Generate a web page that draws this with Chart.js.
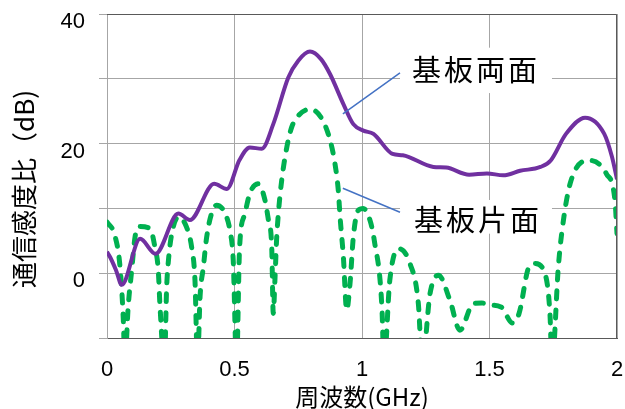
<!DOCTYPE html>
<html>
<head>
<meta charset="utf-8">
<script src="https://cdn.jsdelivr.net/npm/chart.js@4/dist/chart.umd.min.js"></script>
<style>
  html, body { margin: 0; padding: 0; background: #fff; overflow: hidden; }
  #wrap { width: 625px; height: 409px; }
  canvas { display: block; }
</style>
</head>
<body>
<div id="wrap"><canvas id="myChart"></canvas></div>
<script>
// frequency (GHz) / sensitivity ratio (dB)
const bothFreq = [0, 0.012, 0.035, 0.058, 0.13, 0.19, 0.28, 0.325, 0.42, 0.47, 0.52, 0.56, 0.607, 0.652, 0.711, 0.75, 0.796, 0.84, 0.875, 0.927, 0.966, 1.005, 1.045, 1.12, 1.16, 1.28, 1.33, 1.42, 1.49, 1.554, 1.62, 1.70, 1.74, 1.80, 1.875, 1.95, 1.98, 2.0];
const bothGain = [3.3, 2.5, 0.5, -1.8, 5.3, 3.0, 9.2, 8.2, 13.8, 13.0, 17.5, 19.4, 19.2, 23.0, 30.2, 32.8, 34.2, 33.0, 30.7, 26.1, 23.0, 22.0, 21.5, 18.4, 18.2, 16.4, 16.3, 15.2, 15.4, 15.1, 15.8, 16.4, 17.4, 21.5, 24.0, 21.5, 18.0, 14.5];

const singleFreq = [0, 0.031, 0.051, 0.064, 0.070, 0.083, 0.097, 0.110, 0.127, 0.169, 0.188, 0.201, 0.208, 0.225, 0.234, 0.241, 0.254, 0.280, 0.312, 0.332, 0.345, 0.355, 0.365, 0.378, 0.391, 0.410, 0.430, 0.463, 0.482, 0.495, 0.508, 0.520, 0.541, 0.560, 0.593, 0.620, 0.633, 0.646, 0.652, 0.659, 0.665, 0.672, 0.685, 0.705, 0.724, 0.750, 0.796, 0.840, 0.875, 0.894, 0.907, 0.914, 0.927, 0.940, 0.953, 0.966, 0.985, 1.005, 1.031, 1.048, 1.078, 1.086, 1.109, 1.143, 1.188, 1.221, 1.236, 1.267, 1.300, 1.345, 1.384, 1.436, 1.470, 1.500, 1.545, 1.590, 1.616, 1.655, 1.678, 1.717, 1.737, 1.745, 1.770, 1.783, 1.816, 1.894, 1.959, 1.992, 2.0];
const singleGain = [7.9, 5.8, 1.0, -7.2, -14, -5.2, 0.5, 5.6, 7.2, 6.9, 4.0, 0.5, -5.2, -14, -2.1, 2.0, 6.1, 8.7, 7.1, 4.0, -1.1, -14, -3.6, 1.0, 5.6, 9.2, 10.5, 9.2, 6.6, 2.0, -14, 4.0, 9.2, 12.3, 13.8, 11.2, 8.2, 4.0, -6.2, -0.6, 5.1, 9.2, 14.3, 19.4, 22.5, 24.3, 25.3, 24.0, 20.5, 16.9, 12.8, 8.7, 2.5, -5.7, -1.6, 5.6, 9.7, 10.0, 8.2, 5.1, -5.2, -14, -1.1, 3.8, 1.5, -4.7, -14, -3.1, -0.3, -4.2, -8.8, -4.7, -4.6, -4.9, -5.2, -7.7, -6.2, 1.0, 1.5, 0, -6.2, -14, 1.0, 6.1, 13.8, 17.4, 15.3, 11.2, 6.1];

const seriesNames = ['基板両面', '基板片面'];
const xTitle = '周波数(GHz)';
const yTitle = '通信感度比（dB)';
const xLabels = ['0', '0.5', '1', '1.5', '2'];
const yLabels = [0, 20, 40];

const FONT = '"Liberation Sans", "Noto Sans CJK JP", sans-serif';
const JP = '"Noto Sans CJK JP", "Liberation Sans", sans-serif';

const toPoints = (xs, ys) => xs.map((x, i) => ({ x: x, y: ys[i] }));

// callout labels, placed in data units
const callouts = [
  { text: seriesNames[0], at: [1.447, 31.3], box: [1.149, 1.745, 34.8, 27.8], line: [[1.149, 30.9], [0.925, 24.6]] },
  { text: seriesNames[1], at: [1.455, 8.2], box: [1.149, 1.745, 11.3, 6.1], line: [[0.925, 13.1], [1.149, 9.4]] }
];

const extras = {
  id: 'extras',
  afterDatasetsDraw(chart) {
    const { ctx, chartArea: a, scales: { x, y } } = chart;
    ctx.save();
    // top / right frame
    ctx.strokeStyle = '#595959';
    ctx.lineWidth = 1;
    ctx.beginPath();
    ctx.moveTo(a.left, a.top + 0.5);
    ctx.lineTo(a.right - 0.5, a.top + 0.5);
    ctx.lineTo(a.right - 0.5, a.bottom);
    ctx.stroke();

    callouts.forEach(c => {
      const [x0, x1, y0, y1] = c.box;
      ctx.fillStyle = '#fff';
      ctx.fillRect(x.getPixelForValue(x0), y.getPixelForValue(y0),
        x.getPixelForValue(x1) - x.getPixelForValue(x0), y.getPixelForValue(y1) - y.getPixelForValue(y0));
      ctx.strokeStyle = '#4472C4';
      ctx.lineWidth = 1.5;
      ctx.beginPath();
      ctx.moveTo(x.getPixelForValue(c.line[0][0]), y.getPixelForValue(c.line[0][1]));
      ctx.lineTo(x.getPixelForValue(c.line[1][0]), y.getPixelForValue(c.line[1][1]));
      ctx.stroke();
      ctx.fillStyle = '#000';
      ctx.font = '29px ' + JP;
      ctx.letterSpacing = '3px';
      ctx.textAlign = 'center';
      ctx.textBaseline = 'middle';
      ctx.fillText(c.text, x.getPixelForValue(c.at[0]), y.getPixelForValue(c.at[1]));
    });
    ctx.letterSpacing = '0px';

    // y title
    ctx.translate(24, 189);
    ctx.rotate(-Math.PI / 2);
    ctx.fillStyle = '#000';
    ctx.font = '26px ' + JP;
    ctx.textAlign = 'center';
    ctx.textBaseline = 'middle';
    ctx.fillText(yTitle, 0, 0);
    ctx.restore();
  }
};

const ctx = document.getElementById('myChart').getContext('2d');
const myChart = new Chart(ctx, {
  type: 'line',
  data: {
    datasets: [{
      label: seriesNames[0],
      data: toPoints(bothFreq, bothGain),
      borderColor: '#7030A0',
      borderWidth: 4,
      pointRadius: 0,
      cubicInterpolationMode: 'monotone'
    }, {
      label: seriesNames[1],
      data: toPoints(singleFreq, singleGain),
      borderColor: '#00B050',
      borderWidth: 5,
      borderDash: [8, 11],
      borderCapStyle: 'round',
      pointRadius: 0,
      cubicInterpolationMode: 'monotone'
    }]
  },
  options: {
    responsive: true,
    maintainAspectRatio: false,
    animation: false,
    layout: { padding: { top: 14, right: 8, left: 0, bottom: 0 } },
    scales: {
      x: {
        type: 'linear',
        min: 0,
        max: 2,
        ticks: {
          stepSize: 0.5, padding: 19, color: '#000', font: { family: FONT, size: 22 },
          callback: (v, i) => xLabels[i]
        },
        grid: { color: '#A6A6A6', lineWidth: 1, drawTicks: false },
        border: { color: '#595959', width: 1 },
        title: { display: true, text: xTitle, color: '#000', font: { family: JP, size: 24, lineHeight: 1 }, padding: 0 },
        afterFit: s => { s.height = 71; s.paddingLeft = 0; s.paddingRight = 0; }
      },
      y: {
        min: -10,
        max: 40,
        ticks: {
          stepSize: 10,
          padding: 14,
          labelOffset: 8,
          color: '#000',
          font: { family: FONT, size: 22 },
          callback: v => yLabels.includes(v) ? String(v) : ''
        },
        grid: { color: '#A6A6A6', lineWidth: 1, tickLength: 8 },
        border: { color: '#A6A6A6', width: 1 },
        afterFit: s => { s.width = 107; s.paddingTop = 0; s.paddingBottom = 0; }
      }
    },
    plugins: {
      legend: { display: false },
      tooltip: { enabled: false }
    }
  },
  plugins: [extras]
});
</script>
</body>
</html>
